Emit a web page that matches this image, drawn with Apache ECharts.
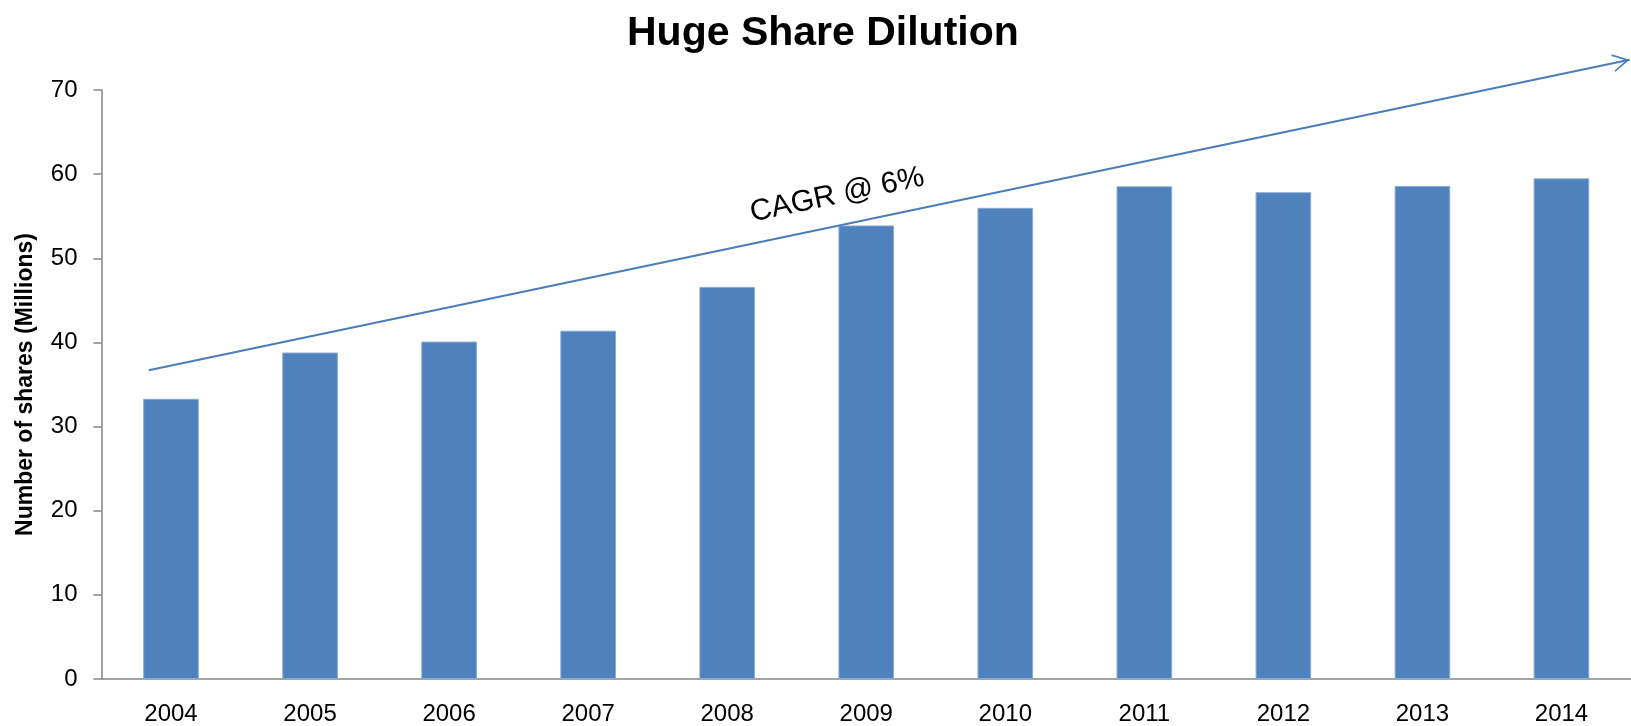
<!DOCTYPE html>
<html lang="en">
<head>
    <meta charset="UTF-8">
    <title>Huge Share Dilution</title>
    <script src="https://cdn.jsdelivr.net/npm/echarts@6/dist/echarts.min.js"></script>
    <style>
        html, body { margin: 0; padding: 0; background: #fff; }
    </style>
</head>
<body>
<div style="width: 1631px; height: 726px" id="share-chart"></div>

<script type="text/javascript">
    // number of shares, millions
    var years = ['2004', '2005', '2006', '2007', '2008', '2009', '2010', '2011', '2012', '2013', '2014'];
    var shares = [33.3, 38.8, 40.1, 41.4, 46.6, 53.9, 56.0, 58.55, 57.85, 58.6, 59.5];
    // trend arrow, x in category units (0 = 2004)
    var trendStart = [-0.16, 36.7];
    var trendEnd = [10.49, 73.6];
    var trendText = 'CAGR @ 6%';

    var blue = '#4F81BD';
    var axisGrey = '#868686';
    var font = '"Liberation Sans", Arial, sans-serif';
    var chevron = 'path://M0,0 L20,9 L0,18 L-0.8,16.4 L15.6,9 L-0.8,1.6 Z';
    var headLen = 17;

    var myChart = echarts.init(document.getElementById('share-chart'));

    var option = {
        animation: false,
        title: {
            text: 'Huge Share Dilution',
            left: 622,
            top: 8,
            textStyle: {
                fontFamily: font,
                fontSize: 41,
                fontWeight: 'bold',
                color: '#000'
            }
        },
        grid: {
            left: 101.5,
            right: -8,
            top: 90,
            bottom: 47
        },
        xAxis: [{
            type: 'category',
            data: years,
            axisLine: { lineStyle: { color: axisGrey, width: 1.5 } },
            axisTick: { length: 7, lineStyle: { color: axisGrey, width: 1.5 } },
            axisLabel: { color: '#000', fontFamily: font, fontSize: 24, margin: 23 }
        }, {
            type: 'value',
            min: -0.5,
            max: 10.5,
            show: false
        }],
        yAxis: {
            type: 'value',
            min: 0,
            max: 70,
            interval: 10,
            name: 'Number of shares (Millions)',
            nameLocation: 'middle',
            nameGap: 64,
            nameTextStyle: { color: '#000', fontFamily: font, fontSize: 23, fontWeight: 'bold' },
            axisLine: { show: true, onZero: false, lineStyle: { color: axisGrey, width: 1.5 } },
            axisTick: { show: true, length: 8, lineStyle: { color: axisGrey, width: 1.5 } },
            axisLabel: { color: '#000', fontFamily: font, fontSize: 24, margin: 24 },
            splitLine: { show: false }
        },
        series: [{
            type: 'bar',
            data: shares,
            barCategoryGap: '60%',
            itemStyle: { color: blue, borderColor: '#8AAAD6', borderWidth: 1 }
        }, {
            type: 'line',
            xAxisIndex: 1,
            clip: false,
            silent: true,
            symbol: 'none',
            lineStyle: { color: '#4A7EBB', width: 2 },
            data: [trendStart, trendEnd]
        }]
    };

    myChart.setOption(option);

    // arrow head and the CAGR text follow the trend line's on-screen slope
    var p0 = myChart.convertToPixel({ xAxisIndex: 1, yAxisIndex: 0 }, trendStart);
    var p1 = myChart.convertToPixel({ xAxisIndex: 1, yAxisIndex: 0 }, trendEnd);
    var ang = Math.atan2(p0[1] - p1[1], p1[0] - p0[0]);
    var deg = ang * 180 / Math.PI;
    // text sits a bit before the middle of the line, lifted off it
    var t = 0.469, lift = 30;
    var mx = p0[0] + (p1[0] - p0[0]) * t - Math.sin(ang) * lift;
    var my = p0[1] + (p1[1] - p0[1]) * t - Math.cos(ang) * lift;

    myChart.setOption({
        series: [{}, {
            data: [trendStart, {
                value: trendEnd,
                symbol: chevron,
                symbolSize: [headLen, 18],
                symbolRotate: deg,
                symbolOffset: [-Math.cos(ang) * headLen / 2, Math.sin(ang) * headLen / 2],
                itemStyle: { color: '#4A7EBB' }
            }],
            showSymbol: true
        }],
        graphic: [{
            type: 'text',
            x: mx,
            y: my,
            rotation: ang,
            silent: true,
            style: {
                text: trendText,
                fill: '#000',
                font: '30px ' + font,
                align: 'center',
                verticalAlign: 'middle'
            }
        }]
    });
</script>
</body>
</html>
